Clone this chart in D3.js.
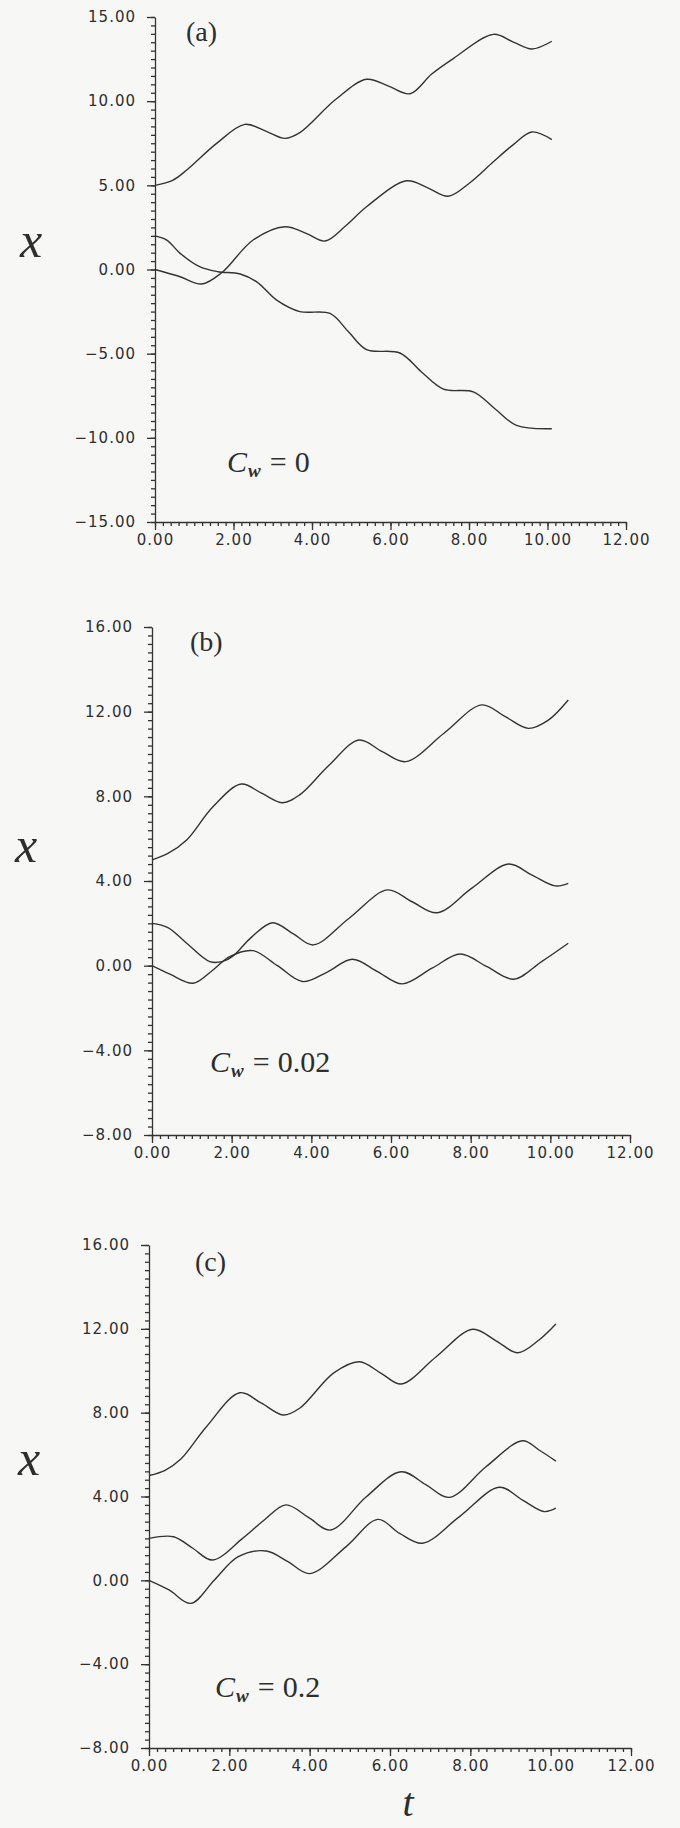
<!DOCTYPE html>
<html>
<head>
<meta charset="utf-8">
<script src="https://cdn.jsdelivr.net/npm/d3@7"></script>
<style>
  html, body { margin: 0; padding: 0; background: #f7f8f6; }
  svg { display: block; }
  .tick text { font-family: "DejaVu Sans", sans-serif; font-size: 15px; letter-spacing: 1px; fill: #2e2e2e; }
  .domain, .tick line { stroke: #333; stroke-width: 1.3; }
  .traj { fill: none; stroke: #333; stroke-width: 1.4; }
</style>
</head>
<body>
<div id="chart"></div>
<script>
// ---------------------------------------------------------------
// Data: [t, x] pairs for each trajectory
// ---------------------------------------------------------------
const tTicks = [0, 2, 4, 6, 8, 10, 12];
const xTicksA = [-15, -10, -5, 0, 5, 10, 15];
const xTicksBC = [-8, -4, 0, 4, 8, 12, 16];
const panelTags = ["(a)", "(b)", "(c)"];
const cwValues = ["0", "0.02", "0.2"];

// (a) C_w = 0
const curveA1 = [[0,5],[0.45,5.3],[0.81,5.91],[1.57,7.49],[2.29,8.62],[2.85,8.19],[3.31,7.79],[3.69,8.13],[4.6,10.1],[5.39,11.3],[5.95,10.89],[6.5,10.44],[7.05,11.61],[7.6,12.53],[8.62,13.97],[9.13,13.51],[9.6,13.1],[10.11,13.56]];
const curveA2 = [[0,2],[0.3,1.75],[0.64,0.96],[1.15,0.15],[1.6,-0.13],[2.17,-0.27],[2.6,-0.75],[3.1,-1.82],[3.69,-2.5],[4.46,-2.61],[4.93,-3.7],[5.39,-4.76],[6.24,-4.96],[6.79,-6.09],[7.35,-7.11],[8.11,-7.27],[8.66,-8.27],[9.21,-9.26],[10.11,-9.46]];
const curveA3 = [[0,0],[0.64,-0.43],[1.19,-0.86],[1.7,-0.19],[2.5,1.75],[3.31,2.54],[3.85,2.15],[4.33,1.69],[4.86,2.6],[5.39,3.73],[6.41,5.27],[6.95,4.85],[7.47,4.35],[8.03,5.17],[8.62,6.4],[9.13,7.42],[9.6,8.17],[10.11,7.72]];

// (b) C_w = 0.02
const curveB1 = [[0,5],[0.4,5.3],[0.87,5.94],[1.53,7.51],[2.24,8.58],[2.75,8.15],[3.28,7.7],[3.7,8.06],[4.45,9.48],[5.2,10.66],[5.78,10.11],[6.37,9.64],[7.33,10.98],[8.28,12.32],[8.87,11.76],[9.45,11.21],[9.95,11.6],[10.45,12.55]];
const curveB2 = [[0,2],[0.4,1.8],[0.87,1.06],[1.45,0.19],[1.78,0.2],[2.03,0.45],[2.5,1.35],[3.03,2.03],[3.55,1.5],[4.05,0.98],[4.95,2.24],[5.91,3.58],[6.53,3.02],[7.16,2.5],[8.03,3.66],[8.95,4.8],[9.53,4.29],[10.12,3.77],[10.45,3.89]];
const curveB3 = [[0,0],[0.45,-0.4],[1.03,-0.83],[1.5,-0.25],[1.95,0.43],[2.53,0.71],[3.15,0],[3.78,-0.75],[4.4,-0.3],[5.03,0.3],[5.66,-0.28],[6.28,-0.86],[7.03,-0.12],[7.74,0.55],[8.41,-0.05],[9.08,-0.64],[9.78,0.19],[10.45,1.06]];

// (c) C_w = 0.2
const curveC1 = [[0,5],[0.4,5.25],[0.8,5.8],[1.43,7.33],[2.26,8.95],[2.8,8.45],[3.34,7.89],[3.75,8.21],[4.6,9.9],[5.24,10.43],[5.78,9.88],[6.28,9.37],[7.15,10.67],[8.06,11.98],[8.64,11.43],[9.18,10.86],[9.71,11.47],[10.13,12.23]];
const curveC2 = [[0,2],[0.61,2.08],[1.09,1.53],[1.58,0.97],[2.33,2],[2.87,2.88],[3.41,3.6],[3.97,3],[4.52,2.4],[5.41,3.99],[6.28,5.18],[6.9,4.55],[7.48,3.96],[8.39,5.42],[9.3,6.66],[9.71,6.22],[10.13,5.69]];
const curveC3 = [[0,0],[0.5,-0.46],[1.04,-1.1],[1.63,0.02],[2.22,1.13],[2.92,1.4],[3.46,0.89],[4,0.32],[4.91,1.61],[5.7,2.91],[6.24,2.24],[6.81,1.77],[7.73,3.04],[8.72,4.44],[9.3,3.83],[9.84,3.28],[10.13,3.44]];

// ---------------------------------------------------------------
// Layout
// ---------------------------------------------------------------
const W = 680, H = 1828;

const panels = [
  { tag: panelTags[0], cw: cwValues[0], curves: [curveA1, curveA2, curveA3],
    yTicks: xTicksA, yMinor: 0.5,
    left: 155, right: 626, top: 17, bottom: 522,
    tagX: 186, tagY: 41, xLabX: 31, xLabY: 257, cwX: 227, cwY: 472 },
  { tag: panelTags[1], cw: cwValues[1], curves: [curveB1, curveB2, curveB3],
    yTicks: xTicksBC, yMinor: 0.4,
    left: 152, right: 630, top: 627, bottom: 1135,
    tagX: 190, tagY: 651, xLabX: 26, xLabY: 862, cwX: 210, cwY: 1072 },
  { tag: panelTags[2], cw: cwValues[2], curves: [curveC1, curveC2, curveC3],
    yTicks: xTicksBC, yMinor: 0.4,
    left: 149, right: 631, top: 1245, bottom: 1748,
    tagX: 195, tagY: 1271, xLabX: 29, xLabY: 1475, cwX: 215, cwY: 1697 }
];

const svg = d3.select("#chart")
  .append("svg")
  .attr("width", W)
  .attr("height", H);

svg.append("rect")
  .attr("width", W)
  .attr("height", H)
  .attr("fill", "#f7f8f6");

const fmt = d3.format(".2f");

panels.forEach(p => {
  const yDom = d3.extent(p.yTicks);
  const x = d3.scaleLinear().domain(d3.extent(tTicks)).range([p.left, p.right]);
  const y = d3.scaleLinear().domain(yDom).range([p.bottom, p.top]);

  const g = svg.append("g");

  // minor ticks first, majors on top
  const xMinor = d3.range(0, 12 + 1e-9, 0.2);
  const yMinor = d3.range(yDom[0], yDom[1] + 1e-9, p.yMinor);

  g.append("g")
    .attr("transform", `translate(0,${p.bottom})`)
    .call(d3.axisBottom(x).tickValues(xMinor).tickSize(4).tickFormat(""))
    .call(s => s.select(".domain").remove());

  g.append("g")
    .attr("transform", `translate(${p.left},0)`)
    .call(d3.axisLeft(y).tickValues(yMinor).tickSize(4).tickFormat(""))
    .call(s => s.select(".domain").remove());

  g.append("g")
    .attr("transform", `translate(0,${p.bottom})`)
    .call(d3.axisBottom(x).tickValues(tTicks).tickSize(8).tickSizeOuter(0).tickPadding(4).tickFormat(fmt));

  g.append("g")
    .attr("transform", `translate(${p.left},0)`)
    .call(d3.axisLeft(y).tickValues(p.yTicks).tickSize(8).tickSizeOuter(0).tickPadding(11).tickFormat(fmt));

  // trajectories
  const line = d3.line()
    .x(d => x(d[0]))
    .y(d => y(d[1]))
    .curve(d3.curveCatmullRom.alpha(0.5));

  g.selectAll("path.traj")
    .data(p.curves)
    .join("path")
    .attr("class", "traj")
    .attr("d", line);

  // panel tag
  g.append("text")
    .attr("x", p.tagX)
    .attr("y", p.tagY)
    .attr("font-family", "'Liberation Serif', serif")
    .attr("font-size", 28)
    .attr("fill", "#2e2e2e")
    .text(p.tag);

  // y label
  g.append("text")
    .attr("x", p.xLabX)
    .attr("y", p.xLabY)
    .attr("text-anchor", "middle")
    .attr("font-family", "'Liberation Serif', serif")
    .attr("font-style", "italic")
    .attr("font-size", 50)
    .attr("fill", "#2e2e2e")
    .text("x");

  // C_w annotation
  const cw = g.append("text")
    .attr("x", p.cwX)
    .attr("y", p.cwY)
    .attr("font-family", "'Liberation Serif', serif")
    .attr("font-size", 30)
    .attr("fill", "#2e2e2e");
  cw.append("tspan").attr("font-style", "italic").text("C");
  cw.append("tspan")
    .attr("font-style", "italic")
    .attr("font-weight", "bold")
    .attr("font-size", 19)
    .attr("dx", 1)
    .attr("dy", 5)
    .text("w");
  cw.append("tspan").attr("dx", 9).attr("dy", -5).text("=");
  cw.append("tspan").attr("dx", 8).text(p.cw);
});

// t label under the last panel
svg.append("text")
  .attr("x", 408)
  .attr("y", 1816)
  .attr("text-anchor", "middle")
  .attr("font-family", "'Liberation Serif', serif")
  .attr("font-style", "italic")
  .attr("font-size", 40)
  .attr("fill", "#2e2e2e")
  .text("t");
</script>
</body>
</html>
